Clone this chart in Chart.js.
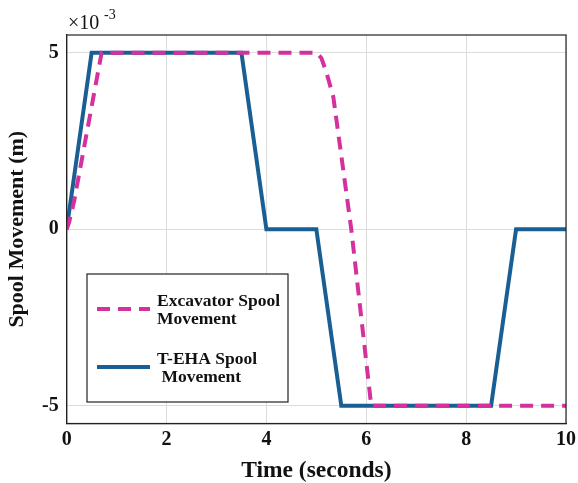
<!DOCTYPE html>
<html>
<head>
<meta charset="utf-8">
<script src="https://cdn.jsdelivr.net/npm/chart.js@4"></script>
<style>
  html,body{margin:0;padding:0;background:#fff;}
  #wrap{width:578px;height:483px;position:relative;}
</style>
</head>
<body>
<div id="wrap"><canvas id="c"></canvas></div>
<script>
'use strict';

/* Werte in 1e-3 m (Achse zeigt x10^-3) */
const tEha     = [0, 0.5, 3.5, 4.0, 5.0, 5.5, 8.5, 9.0, 10];
const sEha     = [0, 5,   5,   0,   0,  -5,  -5,   0,   0];
const tExc     = [0, 0.05, 0.15, 0.7, 5.0, 5.1, 5.2, 5.34, 5.7, 6.1, 10];
const sExc     = [0, 0.2,  0.8,  5,   5,   4.85, 4.45, 3.75, 0, -5,  -5];
const xTicks   = [0, 2, 4, 6, 8, 10];
const yTicks   = [-5, 0, 5];
const labelExc = ['Excavator Spool', 'Movement'];
const labelEha = ['T-EHA Spool', ' Movement'];

const BLUE='#1a5f94', PINK='#d4319c';
const FONT='"Liberation Serif", "Times New Roman", serif';
const pts=(xs,ys)=>xs.map((x,i)=>({x, y:ys[i]}));

/* Rahmen, Exponent und Legende */
const extras={
  id:'extras',
  afterDraw(chart){
    const {ctx, chartArea:a}=chart;
    ctx.save();
    ctx.strokeStyle='#222'; ctx.lineWidth=1.2;
    ctx.strokeRect(a.left, a.top, a.right-a.left, a.bottom-a.top);
    // Exponent
    ctx.fillStyle='#111'; ctx.font='20px '+FONT; ctx.textBaseline='alphabetic';
    ctx.fillText('\u00d710', 68, 29);
    ctx.font='14px '+FONT; ctx.fillText('-3', 104, 19);
    // Legende
    const bx=87, by=274, bw=201, bh=128;
    ctx.fillStyle='#fff'; ctx.fillRect(bx,by,bw,bh);
    ctx.strokeStyle='#222'; ctx.lineWidth=1.2; ctx.strokeRect(bx,by,bw,bh);
    const items=[[chart.data.datasets[0], labelExc, 309], [chart.data.datasets[1], labelEha, 367]];
    items.forEach(([ds,lab,y])=>{
      ctx.beginPath(); ctx.strokeStyle=ds.borderColor; ctx.lineWidth=ds.borderWidth;
      ctx.setLineDash(ds.borderDash||[]); ctx.moveTo(97,y); ctx.lineTo(150,y); ctx.stroke();
      ctx.setLineDash([]);
      ctx.fillStyle='#111'; ctx.font='bold 17.5px '+FONT; ctx.textBaseline='middle';
      ctx.fillText(lab[0],157,y-8); ctx.fillText(lab[1],157,y+10);
    });
    ctx.restore();
  }
};

new Chart(document.getElementById('c'),{
  type:'line',
  data:{ datasets:[
    { label:labelExc.join(' '), data:pts(tExc,sExc), borderColor:PINK, backgroundColor:PINK,
      borderWidth:4, borderDash:[13,8], pointRadius:0, tension:0, fill:false },
    { label:labelEha.join(' '), data:pts(tEha,sEha), borderColor:BLUE, backgroundColor:BLUE,
      borderWidth:4, pointRadius:0, tension:0, fill:false }
  ]},
  options:{
    responsive:true, maintainAspectRatio:false, animation:false,
    layout:{ padding:{ left:6, right:0, top:35, bottom:0 } },
    plugins:{ legend:{display:false}, tooltip:{enabled:false} },
    scales:{
      x:{ type:'linear', min:0, max:10,
        afterBuildTicks:(s)=>{ s.ticks=xTicks.map(v=>({value:v})); },
        afterFit:(s)=>{ s.paddingRight=12; },
        grid:{ color:'#dcdcdc', drawTicks:false },
        border:{ color:'#222', width:1.2 },
        ticks:{ color:'#111', padding:6, font:{ family:FONT, size:20, weight:'bold', lineHeight:1.0 } },
        title:{ display:true, text:'Time (seconds)', color:'#111', padding:{top:4,bottom:0},
          font:{ family:FONT, size:23.5, weight:'bold', lineHeight:1.0 } } },
      y:{ type:'linear', min:-5.5, max:5.5,
        afterBuildTicks:(s)=>{ s.ticks=yTicks.map(v=>({value:v})); },
        grid:{ color:'#dcdcdc', drawTicks:false },
        border:{ color:'#222', width:1.2 },
        ticks:{ color:'#111', padding:8, font:{ family:FONT, size:20, weight:'bold' } },
        title:{ display:true, text:'Spool Movement (m)', color:'#111', padding:{top:0,bottom:6},
          font:{ family:FONT, size:22, weight:'bold', lineHeight:1.0 } } }
    }
  },
  plugins:[extras]
});
</script>
</body>
</html>
